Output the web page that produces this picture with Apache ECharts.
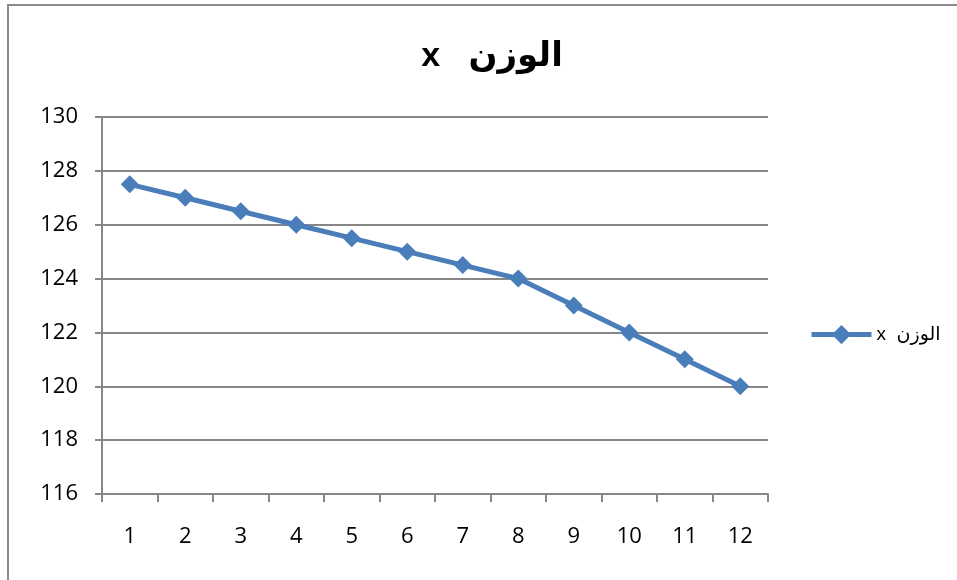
<!DOCTYPE html>
<html>
<head>
<meta charset="utf-8">
<script src="https://cdn.jsdelivr.net/npm/echarts@6/dist/echarts.min.js"></script>
<style>
  html, body { margin: 0; padding: 0; background: #fff; }
  #chart { width: 957px; height: 580px; }
</style>
</head>
<body>
<div id="chart"></div>
<script>
// Weight readings per step
const categories = ['1', '2', '3', '4', '5', '6', '7', '8', '9', '10', '11', '12'];
const weights = [127.5, 127, 126.5, 126, 125.5, 125, 124.5, 124, 123, 122, 121, 120];
const seriesName = 'x  الوزن';
const titleText = 'x   الوزن';

const chart = echarts.init(document.getElementById('chart'), null, { renderer: 'canvas' });
const axisGray = '#878787';
const lineBlue = '#4a7ebb';
const labelFont = '"Open Sans", Lato, sans-serif';

chart.setOption({
  animation: false,
  backgroundColor: '#ffffff',
  title: {
    text: titleText,
    left: 487,
    top: 35,
    textAlign: 'center',
    textStyle: { fontFamily: '"Liberation Sans", Arial, "DejaVu Sans", sans-serif', fontWeight: 'bold', fontSize: 34, color: '#000' }
  },
  legend: {
    orient: 'vertical',
    left: 804,
    top: 320,
    itemWidth: 60,
    itemHeight: 24,
    itemGap: 4,
    textStyle: { fontFamily: '"Liberation Sans", Arial, "DejaVu Sans", sans-serif', fontSize: 19, color: '#000' },
    lineStyle: { width: 5, color: lineBlue },
    data: [seriesName]
  },
  graphic: [{
    type: 'rect',
    shape: { x: 8, y: 5, width: 1200, height: 1000 },
    style: { fill: 'none', stroke: '#8a8a8a', lineWidth: 2 },
    silent: true,
    z: -1
  }],
  grid: { left: 102, right: 189, top: 117, bottom: 86 },
  xAxis: {
    type: 'category',
    data: categories,
    boundaryGap: true,
    axisLine: { lineStyle: { color: axisGray, width: 2 } },
    axisTick: { show: true, length: 8, alignWithLabel: false, lineStyle: { color: axisGray, width: 2 } },
    axisLabel: { margin: 32, fontFamily: labelFont, fontSize: 22, color: '#000' },
    splitLine: { show: false }
  },
  yAxis: {
    type: 'value',
    min: 116,
    max: 130,
    interval: 2,
    axisLine: { show: true, lineStyle: { color: axisGray, width: 2 } },
    axisTick: { show: true, length: 7, lineStyle: { color: axisGray, width: 2 } },
    axisLabel: { margin: 24, fontFamily: labelFont, fontSize: 22, color: '#000' },
    splitLine: { show: true, lineStyle: { color: axisGray, width: 2 } }
  },
  series: [{
    name: seriesName,
    type: 'line',
    data: weights,
    symbol: 'diamond',
    symbolSize: 18,
    lineStyle: { color: lineBlue, width: 5 },
    itemStyle: { color: lineBlue },
    z: 5
  }]
});
</script>
</body>
</html>
